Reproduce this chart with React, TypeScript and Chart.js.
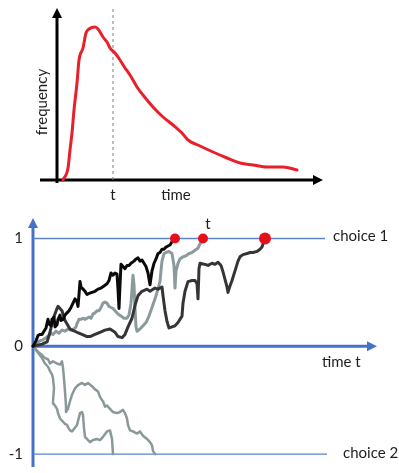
import React, { useEffect, useRef } from "react";
import { Chart, registerables } from "chart.js";
Chart.register(...registerables);

// ---- Top panel: response-time distribution ----
const TOP_TIME = [6, 11, 13, 15, 17, 20, 22, 26, 29, 32, 38, 41, 46, 50, 53, 58, 63, 68, 73, 80, 86, 96, 106, 116, 125, 131, 143, 156, 170, 183, 196, 210, 226, 240];
const TOP_FREQ = [0, 12, 30, 47, 70, 97, 120, 132, 147, 151, 153, 151, 143, 138, 132, 127, 120, 112, 105, 93, 85, 73, 63, 55, 47, 40, 34, 28, 22, 17, 15, 13, 13, 10];
const TOP_T_MARK = 56;
const TOP_TIME_MAX = 266;
const TOP_FREQ_MAX = 172;

// ---- Bottom panel: accumulation paths ----
const BLACK_T = [0, 3, 5, 7, 9, 11, 13, 15, 16, 18, 19, 21, 22, 24, 25, 27, 28, 30, 32, 34, 36, 38, 40, 42, 44, 45, 46, 47, 48, 50, 52, 54, 56, 59, 62, 65, 68, 71, 74, 76, 78, 80, 82, 84, 85, 86, 87, 88, 90, 92, 94, 96, 98, 101, 103, 105, 107, 109, 111, 113, 115, 117, 119, 121, 123, 125, 127, 129, 131, 133, 135, 137, 139, 141, 142];
const BLACK_V = [0, 0.05, 0.10, 0.11, 0.11, 0.14, 0.17, 0.25, 0.21, 0.19, 0.25, 0.27, 0.18, 0.20, 0.25, 0.29, 0.24, 0.25, 0.29, 0.31, 0.33, 0.36, 0.40, 0.44, 0.41, 0.37, 0.48, 0.60, 0.55, 0.53, 0.51, 0.48, 0.49, 0.50, 0.51, 0.53, 0.54, 0.56, 0.58, 0.61, 0.68, 0.66, 0.68, 0.67, 0.53, 0.35, 0.57, 0.76, 0.74, 0.72, 0.75, 0.75, 0.77, 0.79, 0.81, 0.82, 0.79, 0.80, 0.77, 0.74, 0.68, 0.57, 0.70, 0.77, 0.81, 0.86, 0.87, 0.90, 0.90, 0.92, 0.93, 0.94, 0.97, 0.99, 1.0];

const GRAY_T = [0, 3, 5, 7, 10, 13, 16, 18, 20, 23, 26, 29, 32, 35, 38, 41, 43, 44, 46, 48, 50, 52, 54, 56, 58, 60, 62, 64, 66, 68, 70, 72, 74, 76, 78, 80, 82, 85, 88, 91, 94, 96, 98, 99, 100, 101, 102, 103, 104, 107, 110, 113, 116, 119, 122, 125, 127, 128, 129, 131, 133, 136, 139, 141, 142, 143, 145, 147, 150, 153, 156, 159, 162, 165, 167, 169, 170];
const GRAY_V = [0, 0.03, 0.04, 0.05, 0.06, 0.08, 0.10, 0.12, 0.11, 0.14, 0.12, 0.15, 0.14, 0.16, 0.15, 0.16, 0.18, 0.21, 0.25, 0.25, 0.26, 0.25, 0.26, 0.27, 0.26, 0.30, 0.31, 0.33, 0.33, 0.36, 0.40, 0.41, 0.40, 0.37, 0.36, 0.35, 0.33, 0.30, 0.28, 0.26, 0.26, 0.29, 0.40, 0.53, 0.66, 0.57, 0.35, 0.18, 0.14, 0.16, 0.19, 0.22, 0.28, 0.36, 0.44, 0.53, 0.60, 0.70, 0.79, 0.86, 0.87, 0.88, 0.86, 0.75, 0.54, 0.70, 0.77, 0.81, 0.83, 0.84, 0.86, 0.87, 0.89, 0.91, 0.95, 0.98, 1.0];

const CHAR_T = [0, 4, 9, 14, 17, 20, 24, 25, 29, 32, 37, 44, 49, 54, 57, 62, 67, 72, 77, 82, 85, 89, 92, 95, 99, 102, 105, 109, 114, 117, 122, 125, 129, 130, 132, 134, 136, 139, 142, 145, 149, 150, 152, 155, 159, 162, 164, 165, 166, 167, 172, 175, 179, 182, 185, 188, 190, 192, 194, 195, 197, 199, 202, 205, 207, 210, 214, 217, 220, 224, 227, 229, 230, 232];
const CHAR_V = [0, 0.01, 0.02, 0.04, 0.13, 0.25, 0.35, 0.37, 0.33, 0.24, 0.16, 0.13, 0.11, 0.09, 0.09, 0.11, 0.13, 0.15, 0.16, 0.13, 0.09, 0.08, 0.11, 0.18, 0.26, 0.38, 0.47, 0.51, 0.53, 0.51, 0.54, 0.53, 0.55, 0.47, 0.33, 0.23, 0.17, 0.18, 0.19, 0.22, 0.28, 0.40, 0.51, 0.60, 0.61, 0.61, 0.58, 0.44, 0.72, 0.77, 0.76, 0.75, 0.77, 0.76, 0.78, 0.75, 0.69, 0.62, 0.55, 0.50, 0.56, 0.61, 0.70, 0.79, 0.83, 0.85, 0.86, 0.87, 0.87, 0.88, 0.90, 0.92, 0.95, 1.0];

const LOWER_A_T = [0, 5, 9, 12, 15, 17, 19, 20, 21, 20, 20, 22, 24, 25, 27, 29, 30, 32, 34, 35, 37, 39, 40, 44, 47, 49, 50, 51, 52, 54, 55, 57, 60, 64, 67, 70, 74, 77, 79, 80];
const LOWER_A_V = [0, -0.06, -0.11, -0.16, -0.19, -0.23, -0.26, -0.30, -0.39, -0.51, -0.53, -0.55, -0.58, -0.62, -0.67, -0.69, -0.70, -0.72, -0.73, -0.75, -0.78, -0.79, -0.78, -0.73, -0.62, -0.61, -0.64, -0.76, -0.84, -0.86, -0.87, -0.89, -0.87, -0.86, -0.87, -0.84, -0.79, -0.78, -0.86, -1.0];

const LOWER_B_T = [0, 5, 9, 12, 15, 17, 20, 24, 27, 29, 30, 31, 32, 33, 33, 35, 37, 39, 42, 45, 49, 52, 55, 59, 62, 65, 67, 69, 70, 72, 74, 77, 80, 84, 87, 90, 92, 94, 95, 97, 100, 104, 107, 110, 114, 117, 119, 120, 122];
const LOWER_B_V = [0, -0.05, -0.08, -0.11, -0.12, -0.16, -0.14, -0.16, -0.17, -0.14, -0.20, -0.30, -0.42, -0.55, -0.61, -0.58, -0.51, -0.45, -0.39, -0.36, -0.34, -0.36, -0.34, -0.37, -0.40, -0.42, -0.47, -0.50, -0.51, -0.56, -0.55, -0.58, -0.61, -0.62, -0.61, -0.59, -0.62, -0.67, -0.73, -0.78, -0.79, -0.81, -0.79, -0.83, -0.86, -0.89, -0.92, -0.97, -1.0];

const DOT_T = [142, 170, 232];
const DOT_V = [1, 1, 1];
const DOT_R = [5, 5, 6];
const CHOICE_LEVELS = [1, -1];
const CHOICE_LABELS = ["choice 1", "choice 2"];
const CHOICE_END_T = [292, 294];
const Y_TICKS = [1, 0, -1];
const BOT_TIME_MAX = 344;

const FONT = 'Lato, "Open Sans", sans-serif';
const BLUE = "#4472c4";
const TEXT = "#1e1e1e";

const zip = (t: number[], v: number[]) => t.map((x, i) => ({ x, y: v[i] }));

function arrow(ctx: CanvasRenderingContext2D, x1: number, y1: number, x2: number, y2: number, color: string, lw: number, head: number, half: number) {
  const ang = Math.atan2(y2 - y1, x2 - x1);
  const bx = x2 - head * Math.cos(ang);
  const by = y2 - head * Math.sin(ang);
  ctx.save();
  ctx.strokeStyle = color;
  ctx.fillStyle = color;
  ctx.lineWidth = lw;
  ctx.beginPath();
  ctx.moveTo(x1, y1);
  ctx.lineTo(bx, by);
  ctx.stroke();
  ctx.beginPath();
  ctx.moveTo(x2, y2);
  ctx.lineTo(bx + half * Math.sin(ang), by - half * Math.cos(ang));
  ctx.lineTo(bx - half * Math.sin(ang), by + half * Math.cos(ang));
  ctx.closePath();
  ctx.fill();
  ctx.restore();
}

const topPlugin = {
  id: "topAxes",
  beforeDatasetsDraw(chart: any) {
    const { ctx, chartArea: a, scales } = chart;
    const x0 = scales.x.getPixelForValue(0);
    const y0 = scales.y.getPixelForValue(0);
    arrow(ctx, x0 - 17, y0, a.right, y0, "#000", 3, 10, 5);
    arrow(ctx, x0, y0 + 3, x0, a.top, "#000", 3, 10, 5);
  },
  afterDraw(chart: any) {
    const { ctx, chartArea: a, scales } = chart;
    const x0 = scales.x.getPixelForValue(0);
    const y0 = scales.y.getPixelForValue(0);
    ctx.save();
    ctx.fillStyle = TEXT;
    ctx.font = `15px ${FONT}`;
    ctx.textAlign = "center";
    ctx.textBaseline = "middle";
    ctx.fillText("t", scales.x.getPixelForValue(TOP_T_MARK), y0 + 15);
    ctx.fillText("time", scales.x.getPixelForValue(119), y0 + 15);
    ctx.translate(x0 - 15, (a.top + y0) / 2 + 8);
    ctx.rotate(-Math.PI / 2);
    ctx.fillText("frequency", 0, 0);
    ctx.restore();
  },
};

const botPlugin = {
  id: "botAxes",
  beforeDatasetsDraw(chart: any) {
    const { ctx, chartArea: a, scales } = chart;
    const x0 = scales.x.getPixelForValue(0);
    const y0 = scales.y.getPixelForValue(0);
    arrow(ctx, x0, a.bottom, x0, a.top, BLUE, 3, 10, 5);
    arrow(ctx, x0, y0, a.right, y0, BLUE, 3, 10, 5);
  },
  afterDraw(chart: any) {
    const { ctx, chartArea: a, scales } = chart;
    const x0 = scales.x.getPixelForValue(0);
    const y0 = scales.y.getPixelForValue(0);
    ctx.save();
    ctx.fillStyle = TEXT;
    ctx.font = `15px ${FONT}`;
    ctx.textBaseline = "middle";
    ctx.textAlign = "right";
    Y_TICKS.forEach((v) => ctx.fillText(String(v), x0 - 10, scales.y.getPixelForValue(v)));
    ctx.textAlign = "left";
    ctx.fillText(CHOICE_LABELS[0], scales.x.getPixelForValue(CHOICE_END_T[0]) + 8, scales.y.getPixelForValue(CHOICE_LEVELS[0]) - 2);
    ctx.fillText(CHOICE_LABELS[1], scales.x.getPixelForValue(CHOICE_END_T[1]) + 16, scales.y.getPixelForValue(CHOICE_LEVELS[1]) - 1);
    ctx.fillText("time t", a.right - 55, y0 + 16);
    ctx.textAlign = "center";
    ctx.fillText("t", scales.x.getPixelForValue(DOT_T[1]) + 5, scales.y.getPixelForValue(DOT_V[1]) - 14);
    ctx.restore();
  },
};

const pathStyle = (color: string, width: number) => ({
  borderColor: color,
  borderWidth: width,
  pointRadius: 0,
  tension: 0,
  borderJoinStyle: "round" as const,
  borderCapStyle: "round" as const,
  fill: false,
  clip: false as const,
});

export default function App() {
  const topRef = useRef<HTMLCanvasElement>(null);
  const botRef = useRef<HTMLCanvasElement>(null);

  useEffect(() => {
    const top = new Chart(topRef.current!, {
      type: "line",
      data: {
        datasets: [
          {
            data: zip(TOP_TIME, TOP_FREQ),
            ...pathStyle("#e8202a", 3),
            cubicInterpolationMode: "monotone",
          } as any,
          {
            data: [{ x: TOP_T_MARK, y: 0 }, { x: TOP_T_MARK, y: TOP_FREQ_MAX + 2 }],
            ...pathStyle("#808080", 1),
            borderDash: [3, 3],
            borderCapStyle: "butt",
          } as any,
        ],
      },
      options: {
        responsive: false,
        animation: false,
        devicePixelRatio: 1,
        layout: { padding: { left: 57, right: 76, top: 8, bottom: 20 } },
        scales: {
          x: { type: "linear", min: 0, max: TOP_TIME_MAX, display: false },
          y: { type: "linear", min: 0, max: TOP_FREQ_MAX, display: false },
        },
        plugins: { legend: { display: false }, tooltip: { enabled: false } },
      },
      plugins: [topPlugin],
    });

    const bot = new Chart(botRef.current!, {
      type: "line",
      data: {
        datasets: [
          {
            data: zip(DOT_T, DOT_V),
            showLine: false,
            pointRadius: DOT_R,
            pointBackgroundColor: "#e5101c",
            pointBorderWidth: 0,
            clip: false,
          } as any,
          { data: zip(BLACK_T, BLACK_V), ...pathStyle("#0a0a0a", 3) },
          { data: zip(CHAR_T, CHAR_V), ...pathStyle("#353535", 3) },
          { data: zip(GRAY_T, GRAY_V), ...pathStyle("#8c9a9b", 3) },
          { data: zip(LOWER_A_T, LOWER_A_V), ...pathStyle("#8a9899", 2.5) },
          { data: zip(LOWER_B_T, LOWER_B_V), ...pathStyle("#8a9899", 2.5) },
          {
            data: [{ x: 0, y: CHOICE_LEVELS[0] }, { x: CHOICE_END_T[0], y: CHOICE_LEVELS[0] }],
            ...pathStyle("#5b84cc", 1.3),
            borderCapStyle: "butt",
          } as any,
          {
            data: [{ x: 0, y: CHOICE_LEVELS[1] }, { x: CHOICE_END_T[1], y: CHOICE_LEVELS[1] }],
            ...pathStyle("#5b84cc", 1.3),
            borderCapStyle: "butt",
          } as any,
        ],
      },
      options: {
        responsive: false,
        animation: false,
        devicePixelRatio: 1,
        layout: { padding: { left: 33, right: 22, top: 18, bottom: 1 } },
        scales: {
          x: { type: "linear", min: 0, max: BOT_TIME_MAX, display: false },
          y: { type: "linear", min: -1.12, max: 1.19, display: false },
        },
        plugins: { legend: { display: false }, tooltip: { enabled: false } },
      },
      plugins: [botPlugin],
    });

    return () => {
      top.destroy();
      bot.destroy();
    };
  }, []);

  return (
    <div style={{ position: "fixed", left: 0, top: 0, width: 399, height: 473, background: "#fff" }}>
      <canvas ref={topRef} width={399} height={200} style={{ position: "absolute", left: 0, top: 0, width: 399, height: 200 }} />
      <canvas ref={botRef} width={399} height={273} style={{ position: "absolute", left: 0, top: 200, width: 399, height: 273 }} />
    </div>
  );
}
